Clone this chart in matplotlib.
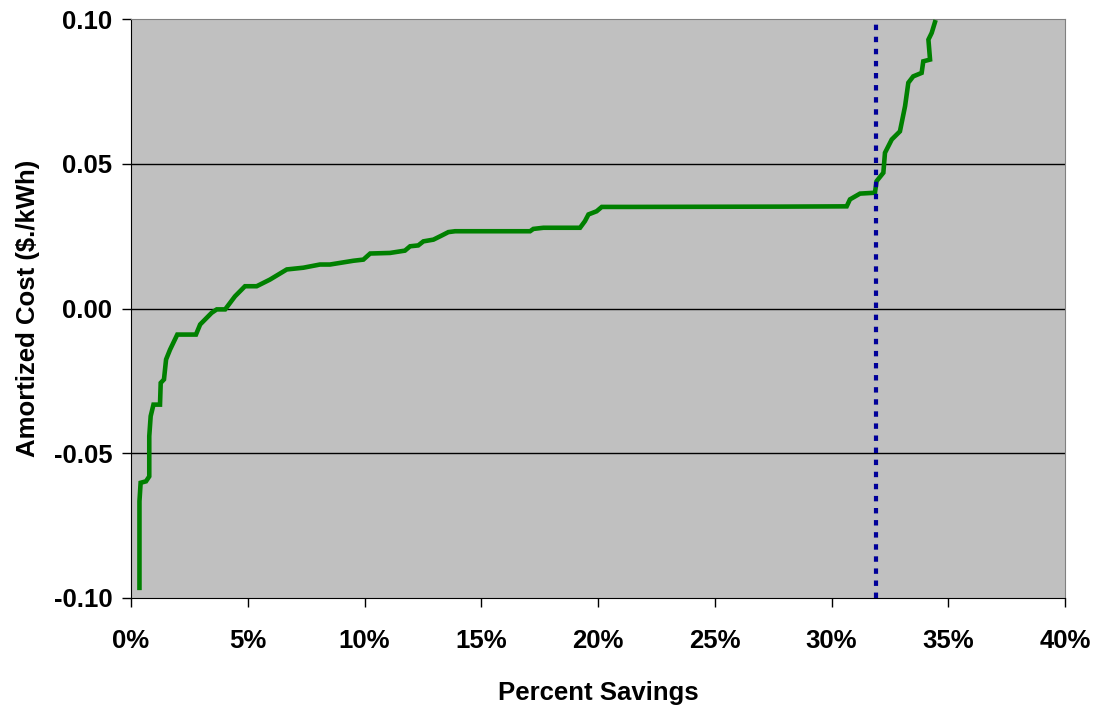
import numpy as np
import matplotlib.pyplot as plt
from matplotlib.ticker import FuncFormatter

# Supply curve (percent savings, $/kWh)
savings = [0.36, 0.36, 0.41, 0.64, 0.78, 0.78, 0.84, 0.96, 1.24, 1.27, 1.41, 1.50,
           1.67, 1.98, 2.78, 2.96, 3.45, 3.67, 4.03, 4.45, 4.88, 5.38, 5.95, 6.67,
           7.38, 8.09, 8.52, 9.52, 9.95, 10.24, 11.09, 11.73, 11.95, 12.30, 12.52,
           12.95, 13.30, 13.59, 13.88, 17.09, 17.23, 17.66, 19.23, 19.44, 19.59,
           19.94, 20.16, 21.37, 27.79, 30.65, 30.79, 31.22, 31.86, 31.93, 32.22,
           32.29, 32.58, 32.93, 33.15, 33.29, 33.50, 33.86, 33.93, 34.22, 34.15,
           34.29, 34.43]
cost = [-0.0965, -0.0666, -0.0602, -0.0597, -0.0580, -0.0441, -0.0372, -0.0332,
        -0.0332, -0.0257, -0.0245, -0.0176, -0.0142, -0.0090, -0.0090, -0.0055,
        -0.0015, -0.0003, -0.0003, 0.0042, 0.0077, 0.0077, 0.0100, 0.0135, 0.0141,
        0.0152, 0.0152, 0.0165, 0.0169, 0.0190, 0.0192, 0.0200, 0.0215, 0.0218,
        0.0232, 0.0238, 0.0252, 0.0264, 0.0267, 0.0267, 0.0275, 0.0279, 0.0279,
        0.0302, 0.0325, 0.0336, 0.0351, 0.0351, 0.0352, 0.0353, 0.0377, 0.0397,
        0.0400, 0.0440, 0.0469, 0.0538, 0.0584, 0.0612, 0.0699, 0.0780, 0.0802,
        0.0814, 0.0854, 0.0860, 0.0929, 0.0952, 0.0989]
cutoff = 31.9  # dotted vertical line

xticks = [0, 5, 10, 15, 20, 25, 30, 35, 40]
yticks = [-0.10, -0.05, 0.00, 0.05, 0.10]

plt.rcParams['font.family'] = ['Liberation Sans', 'DejaVu Sans']

fig = plt.figure(figsize=(11.05, 7.06), dpi=100)
ax = fig.add_axes([0.1186, 0.153, 0.8452, 0.820])
ax.set_facecolor('#C0C0C0')

for y in [-0.05, 0.0, 0.05]:
    ax.axhline(y, color='black', lw=1.0, zorder=1)

ax.plot(np.array(savings), np.array(cost), color='#008000', lw=3.3,
        solid_joinstyle='miter', zorder=3)
ax.axvline(cutoff, color='#000099', lw=3.0, linestyle=(0, (1.3, 1.6)), zorder=4)

ax.set_xlim(0, 40)
ax.set_ylim(-0.10, 0.10)
ax.set_xticks(xticks)
ax.set_yticks(yticks)
ax.xaxis.set_major_formatter(FuncFormatter(lambda v, p: f'{v:.0f}%'))
ax.yaxis.set_major_formatter(FuncFormatter(lambda v, p: f'{v:.2f}'))
ax.tick_params(direction='out', length=6.5, width=1, labelsize=18.5, pad=7)
for lab in ax.get_xticklabels() + ax.get_yticklabels():
    lab.set_fontweight('bold')
ax.tick_params(axis='x', pad=16)

for side in ['top', 'right']:
    ax.spines[side].set_color('#808080')
for side in ['left', 'bottom']:
    ax.spines[side].set_color('black')

ax.set_xlabel('Percent Savings', fontsize=18.5, fontweight='bold', labelpad=20)
ax.set_ylabel('Amortized Cost ($./kWh)', fontsize=18.5, fontweight='bold', labelpad=10)

fig.savefig('out.png', dpi=100)
